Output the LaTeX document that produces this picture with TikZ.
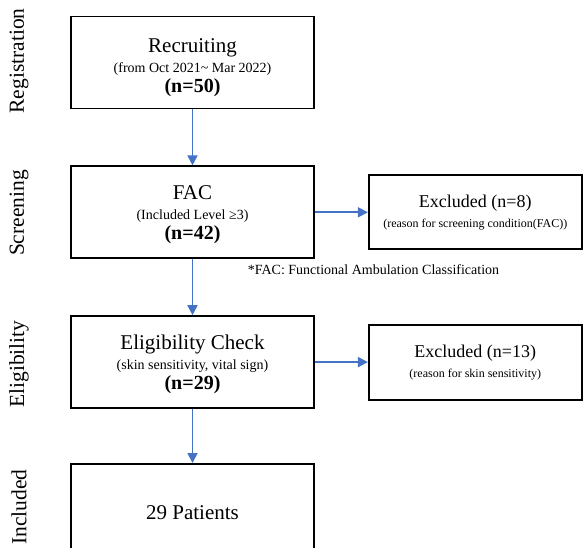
\documentclass[tikz,border=0pt]{standalone}
\usepackage{fontspec}
\setmainfont{Liberation Serif}
\usetikzlibrary{arrows.meta,positioning}
\definecolor{flowblue}{HTML}{4472C4}
\newcommand{\stagetitle}{\fontsize{21}{21}\selectfont}
\newcommand{\stagesub}{\fontsize{14}{14}\selectfont}
\newcommand{\stagecount}{\fontsize{20}{20}\selectfont\bfseries}
\newcommand{\excltitle}{\fontsize{18}{18}\selectfont}
\newcommand{\exclsub}{\fontsize{12}{12}\selectfont}

\begin{document}
\begin{tikzpicture}[x=1pt, y=-1pt]
\tikzstyle{stage}=[rectangle, draw=black, line width=1.8pt, minimum width=243pt, minimum height=92pt, align=center, inner sep=0pt, font=\fontsize{14}{20}\selectfont]
\tikzstyle{excl}=[stage, minimum width=213pt, minimum height=74pt]
\tikzstyle{phase}=[rotate=90, font=\fontsize{21.5}{21.5}\selectfont]
\tikzstyle{connect}=[-{Triangle[width=10pt, length=10pt]}, flowblue, line width=1.7pt]

  \useasboundingbox (0,0) rectangle (583,548);

  % main column
  \node[stage] (recruit) at (192.5,62.5) {{\stagetitle Recruiting}\\{\stagesub (from Oct 2021\textasciitilde{} Mar 2022)}\\{\stagecount (n=50)}\\[-27pt]};
  \node[stage] (fac)     [below=56pt of recruit] {{\stagetitle FAC}\\{\stagesub (Included Level ≥3)}\\{\stagecount (n=42)}\\[-21pt]};
  \node[stage] (elig)    [below=56pt of fac]     {{\stagetitle Eligibility Check}\\{\stagesub (skin sensitivity, vital sign)}\\{\stagecount (n=29)}\\[-21pt]};
  \node[stage, minimum height=98pt] (incl) [below=54pt of elig] {\stagetitle 29 Patients};

  % excluded boxes
  \node[excl] (exclfac)  [right=53pt of fac]  {{\excltitle Excluded (n=8)}\\{\exclsub (reason for screening condition(FAC))}};
  \node[excl, minimum height=75pt] (exclskin) [right=53pt of elig] {{\excltitle Excluded (n=13)}\\{\exclsub (reason for skin sensitivity)}};

  \node[font=\fontsize{14}{14}\selectfont] (facnote) at (373.5,270) {*FAC: Functional Ambulation Classification};

  % phase labels
  \node[phase] (lblreg)  at (19,61)  {Registration};
  \node[phase] (lblscr)  at (19,213) {Screening};
  \node[phase] (lblelig) at (19,364) {Eligibility};
  \node[phase] (lblincl) at (19,507) {Included};

  \path (recruit) edge [connect] (fac);
  \path (fac)     edge [connect] (elig);
  \path (elig)    edge [connect] (incl);
  \path (fac)     edge [connect] (exclfac);
  \path (elig)    edge [connect] (exclskin);

\end{tikzpicture}
\end{document}
